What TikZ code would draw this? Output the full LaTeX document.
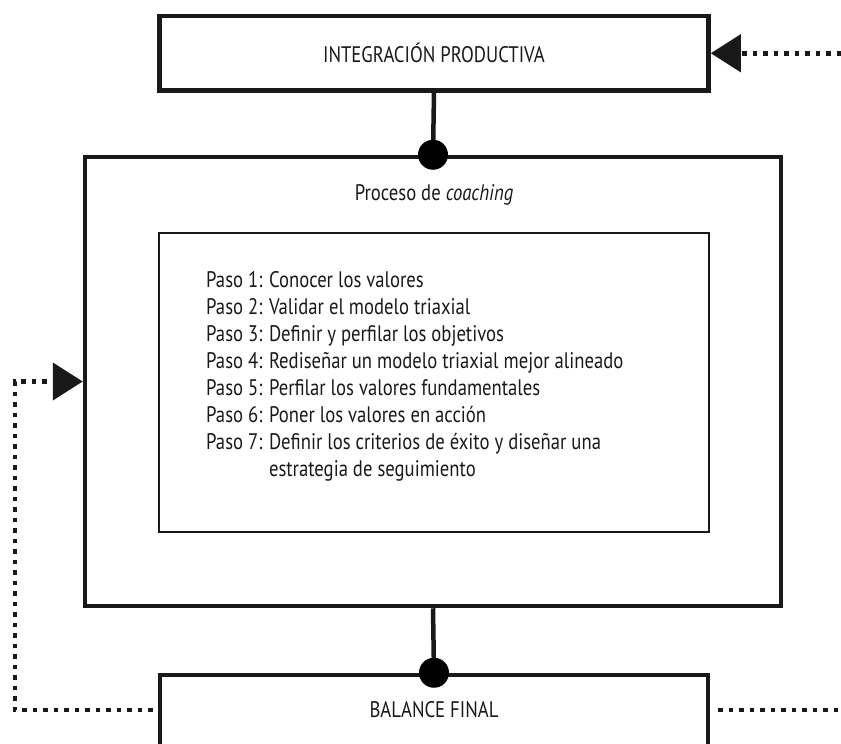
\documentclass[tikz,border=0pt]{standalone}
\usepackage{fontspec}
\setmainfont{PT Sans}[FakeStretch=0.83]
\usetikzlibrary{
    arrows.meta,
    positioning
}
\tikzset{
    % Boxes
    heavy box/.style={draw,line width=4.5pt,inner sep=0pt},
    light box/.style={draw,line width=2.5pt,inner sep=0pt},
    %
    % Connectors
    link/.style={line width=4.5pt},
    joint/.style={circle,fill=black,inner sep=0pt,minimum size=30pt},
    feedback/.style={line width=4.5pt,dash pattern=on 4.5pt off 6pt},
    %
    % Arrows
    arrow tip/.tip={Triangle[length=30pt,width=37pt]},
    arr/.style={-{arrow tip}},
    %
    % Text
    paso/.style={inner sep=0pt,anchor=base west}
}
\newcommand{\diagramfont}{\fontsize{22.5pt}{27pt}\selectfont}
\tikzstyle{every node}=[font=\diagramfont]

\begin{document}
\begin{tikzpicture}[x=1pt,y=-1pt,color=black!90]
    \useasboundingbox (0,0) rectangle (841,744);
    \clip (0,0) rectangle (841,744);

    % Stages
    \node[heavy box,minimum width=549pt,minimum height=74.5pt] (integ) at (434,53.25) {INTEGRACIÓN PRODUCTIVA};
    \node[heavy box,minimum width=696pt,minimum height=449pt] (proceso) at (433,381.5) {};
    \node (procesotxt) at (434,195) {Proceso de \textit{coaching}};
    \node[light box,minimum width=550pt,minimum height=299pt] (pasos) at (434,382.5) {};
    \node[heavy box,minimum width=548pt,minimum height=100pt] (balance) at (434,725) {};
    \node (balancetxt) at (434,710) {BALANCE FINAL};

    % Steps
    \foreach \n/\txt in {1/Conocer los valores,
                        2/Validar el modelo triaxial,
                        3/Definir y perfilar los objetivos,
                        4/Rediseñar un modelo triaxial mejor alineado,
                        5/Perfilar los valores fundamentales,
                        6/Poner los valores en acción,
                        7/Definir los criterios de éxito y diseñar una}{
        \node[paso] (paso\n) at (206,260.5+27*\n) {Paso \n: \txt};
    }
    \node[paso] (seguimiento) at (206,260.5+27*8) {\hphantom{Paso 7: }estrategia de seguimiento};

    % Links between stages
    \draw[link] (integ.south) -- (proceso.north) node[joint] (jointtop) {};
    \draw[link] (proceso.south) -- (balance.north) node[joint] (jointbottom) {};

    % Feedback loops
    \coordinate (fbin) at (841,53.25);
    \coordinate (fbcorner) at (15,710);
    \coordinate (fbout) at (841,710);
    \draw[feedback,arr] (fbin) -- (integ.east);
    \draw[feedback,arr,shorten <=5pt] (balancetxt -| balance.west) -- (fbcorner) |- (proceso.west);
    \draw[feedback,shorten <=8pt] (balancetxt -| balance.east) -- (fbout);
\end{tikzpicture}
\end{document}
